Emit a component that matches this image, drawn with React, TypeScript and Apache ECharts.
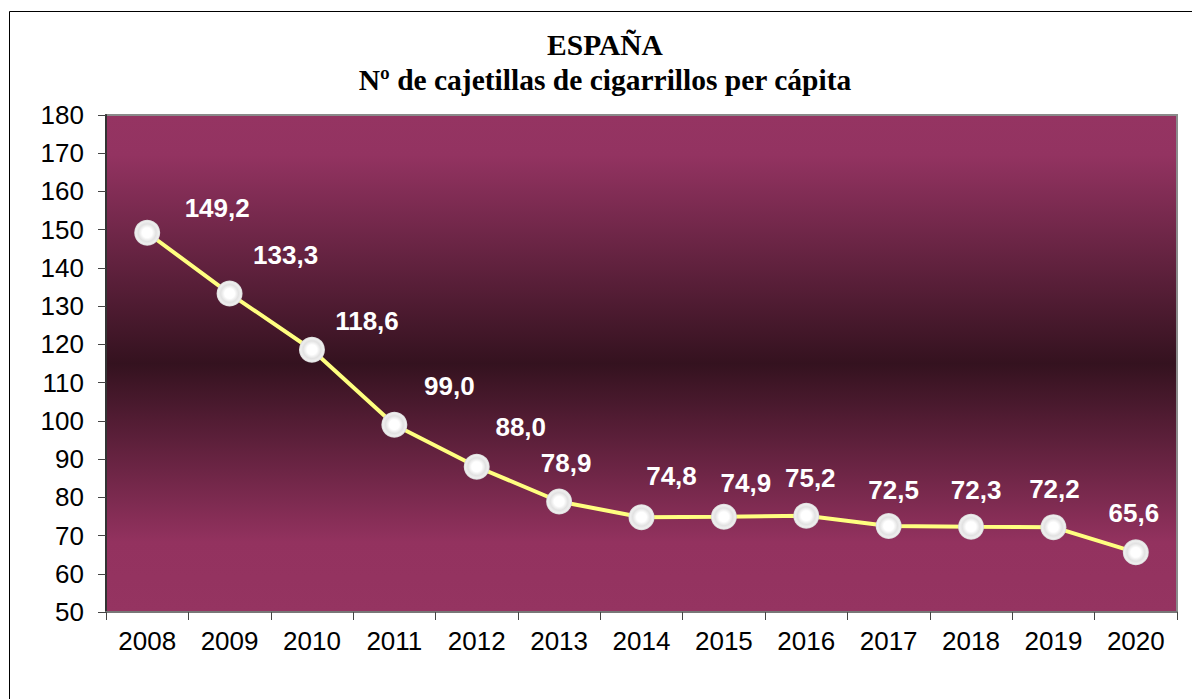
import React, { useEffect, useRef } from "react";
import * as echarts from "echarts";

const years = ["2008", "2009", "2010", "2011", "2012", "2013", "2014", "2015", "2016", "2017", "2018", "2019", "2020"];
const packs = [149.2, 133.3, 118.6, 99.0, 88.0, 78.9, 74.8, 74.9, 75.2, 72.5, 72.3, 72.2, 65.6];
const labelOffsets = [
  [70, -25], [56, -39], [55, -29], [55, -39], [44, -40], [7, -39], [30, -41],
  [22, -34], [4, -38], [5, -36], [5, -37], [1, -38], [-2, -39],
];
const titleLines = ["ESPAÑA", "Nº de cajetillas de cigarrillos per cápita"];

export default function App() {
  const ref = useRef<HTMLDivElement>(null);
  useEffect(() => {
    const chart = echarts.init(ref.current!, null, { renderer: "svg" });
    const bg = new echarts.graphic.LinearGradient(0, 0, 0, 1, [
      { offset: 0, color: "#953462" },
      { offset: 0.08, color: "#933361" },
      { offset: 0.5, color: "#34121f" },
      { offset: 0.86, color: "#93325f" },
      { offset: 1, color: "#953461" },
    ]);
    const marker = new echarts.graphic.RadialGradient(0.5, 0.5, 0.5, [
      { offset: 0, color: "#ffffff" },
      { offset: 0.38, color: "#ffffff" },
      { offset: 0.68, color: "#e2e2e2" },
      { offset: 0.88, color: "#efefef" },
      { offset: 1, color: "#d6d6d6" },
    ]);
    chart.setOption({
      animation: false,
      title: {
        text: titleLines.join("\n"),
        left: 600,
        textAlign: "center",
        top: 22,
        textStyle: {
          fontFamily: "Liberation Serif",
          fontWeight: "bold",
          fontSize: 29.5,
          lineHeight: 35,
          color: "#000",
        },
      },
      graphic: [
        {
          type: "rect",
          shape: { x: 9.5, y: 11.5, width: 1400, height: 1000 },
          style: { fill: "none", stroke: "#000", lineWidth: 1 },
          silent: true,
        },
      ],
      grid: {
        left: 106,
        right: 15,
        top: 115,
        bottom: 87,
        show: true,
        backgroundColor: bg,
        borderColor: "#8a8a8a",
        borderWidth: 2,
      },
      xAxis: {
        type: "category",
        data: years,
        boundaryGap: true,
        axisLine: { lineStyle: { color: "#777", width: 2 } },
        axisTick: { show: true, length: 8, lineStyle: { color: "#444", width: 1 } },
        axisLabel: {
          fontFamily: "Liberation Sans",
          fontSize: 26,
          color: "#000",
          margin: 16,
        },
      },
      yAxis: {
        type: "value",
        min: 50,
        max: 180,
        interval: 10,
        splitLine: { show: false },
        axisLine: { show: true, lineStyle: { color: "#333", width: 2 } },
        axisTick: { show: true, length: 8, lineStyle: { color: "#444", width: 1 } },
        axisLabel: {
          fontFamily: "Liberation Sans",
          fontSize: 26,
          color: "#000",
          margin: 22,
        },
      },
      series: [
        {
          type: "line",
          data: packs.map((v, i) => ({
            value: v,
            label: { offset: labelOffsets[i] },
          })),
          symbol: "circle",
          symbolSize: 26,
          lineStyle: { color: "#ffff80", width: 4 },
          itemStyle: { color: marker, borderWidth: 0 },
          label: {
            show: true,
            position: "inside",
            align: "center",
            verticalAlign: "middle",
            fontFamily: "Liberation Sans",
            fontWeight: "bold",
            fontSize: 26,
            color: "#fff",
            formatter: (p: any) => p.value.toFixed(1).replace(".", ","),
          },
        },
      ],
    });
    return () => chart.dispose();
  }, []);
  return (
    <div
      ref={ref}
      style={{ position: "absolute", left: 0, top: 0, width: 1192, height: 699 }}
    />
  );
}
